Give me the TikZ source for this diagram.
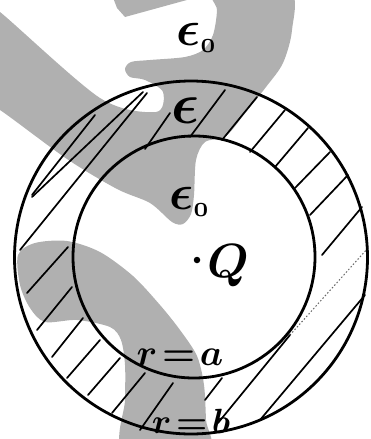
\documentclass[tikz,border=0pt]{standalone}
\definecolor{wm}{RGB}{176,176,176}
\newcommand{\subo}{\scalebox{0.8}{$\scriptscriptstyle 0$}}
\begin{document}
\begin{tikzpicture}[x=1pt,y=-1pt,
  hatch/.style={line width=1.7pt, line cap=round},
  ring/.style={line width=2.8pt},
  lbl/.style={inner sep=0pt, anchor=center, font=\boldmath}]
\useasboundingbox (0,0) rectangle (371,439);
% watermark
\fill[wm] (112,-5) -- (205,-5) -- (125,17) -- (117,8) -- cycle;
\fill[wm] plot[smooth cycle, tension=0.5] coordinates {
  (214,-10) (289,-10) (292,30) (283,63) (266,87) (246,112) (226,136)
  (205,142) (196,160) (194,195) (191,214) (183,224) (172,222) (150,203)
  (117,189) (67,159) (0,110) (-8,110) (-8,12) (0,12) (100,98) (156,112)
  (163,92) (145,80) (130,77) (125,69) (131,62) (150,60) (185,57)
  (203,50) (213,35) (217,10)};
\fill[wm] plot[smooth cycle, tension=0.5] coordinates {
  (18,255) (35,243) (67,241) (100,252) (133,276) (160,305) (180,330)
  (197,356) (204,385) (206,420) (207,450) (124,450) (125,400) (125,365)
  (121,340) (110,327) (77,320) (45,322) (30,308) (20,285)};
% hatch lines
\draw[hatch] (95,115) -- (32,195);
\draw[hatch] (143,92) -- (32,197);
\draw[hatch] (147,93) -- (20,250);
\draw[hatch] (170,113) -- (145,149);
\draw[hatch] (225,90) -- (190,137);
\draw[hatch] (257,97) -- (222,140);
\draw[hatch] (285,110) -- (250,152);
\draw[hatch] (308,128) -- (275,167);
\draw[hatch] (330,152) -- (295,188);
\draw[hatch] (348,175) -- (310,215);
\draw[hatch] (362,207) -- (322,255);
\draw[line width=1pt, dash pattern=on 1.5pt off 2pt, black!60] (368,248) -- (290,335);
\draw[hatch] (290,335) -- (218,423);
\draw[hatch] (365,295) -- (260,420);
\draw[hatch] (222,378) -- (205,400);
\draw[hatch] (173,383) -- (140,430);
\draw[hatch] (145,373) -- (112,413);
\draw[hatch] (120,358) -- (88,395);
\draw[hatch] (100,340) -- (67,378);
\draw[hatch] (83,318) -- (52,357);
\draw[hatch] (72,287) -- (37,330);
\draw[hatch] (68,247) -- (27,293);
% circles
\node[ring, draw, circle, minimum size=353pt, inner sep=0pt] (outer) at (191,257.5) {};
\node[ring, draw, circle, minimum size=242pt, inner sep=0pt] (inner) at (194,257) {};
% labels
\node[lbl, scale=5] (epstop) at (197,38) {$\epsilon_{\subo}$};
\node[lbl, scale=5.8] (epsmid) at (186,111) {$\epsilon$};
\node[lbl, scale=5] (epsin) at (190,202) {$\epsilon_{\subo}$};
\node[circle, fill, inner sep=0pt, minimum size=6.5pt] (qdot) at (197,260) {};
\node[lbl, scale=4.8] (q) at (228,266) {$Q$};
\node[lbl, scale=3.7] (ra) at (180,357) {$r\!=\!a$};
\node[lbl, scale=3.5] (rb) at (191,421) {$r\!=\!b$};
\end{tikzpicture}
\end{document}
